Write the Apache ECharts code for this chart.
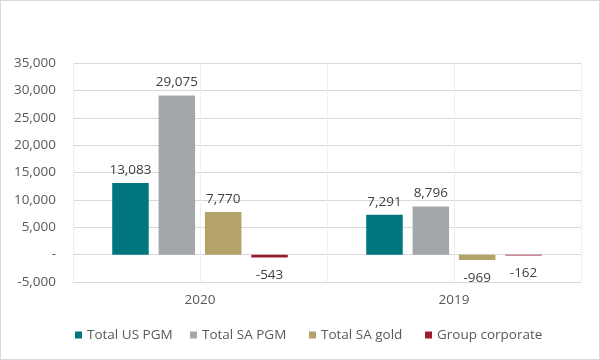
<!DOCTYPE html>
<html><head><meta charset="utf-8">
<script src="https://cdn.jsdelivr.net/npm/echarts@6/dist/echarts.min.js"></script>
<style>html,body{margin:0;padding:0;background:#fff}#c{width:600px;height:360px;box-sizing:border-box;border:1px solid #d9d9d9}</style>
</head><body><div id="c"></div>
<script>
const categories = ['2020', '2019'];
const seriesNames = ['Total US PGM', 'Total SA PGM', 'Total SA gold', 'Group corporate'];
const totalUSPGM = [13083, 7291];
const totalSAPGM = [29075, 8796];
const totalSAGold = [7770, -969];
const groupCorporate = [-543, -162];
const colors = ['#00777f', '#a3a7aa', '#b3a26a', '#9b1d33'];
const seriesValues = [totalUSPGM, totalSAPGM, totalSAGold, groupCorporate];
const legendLefts = [74, 189, 308, 424];

const font = '"Open Sans", "Liberation Sans", sans-serif';
const fmt = v => v === 0 ? '-' : v.toLocaleString('en-US');

const chart = echarts.init(document.getElementById('c'));
chart.setOption({
  animation: false,
  grid: { left: 72, right: 18, top: 62, bottom: 77 },
  legend: seriesNames.map((n, i) => ({
    data: [n], left: legendLefts[i], top: 327, padding: 0, itemWidth: 7, itemHeight: 7, itemGap: 4,
    icon: 'rect', textStyle: { color: '#595959', fontSize: 13.5, fontFamily: font }
  })),
  xAxis: [{
    type: 'category', data: categories,
    axisLine: { show: false }, axisTick: { show: false },
    axisLabel: { color: '#595959', fontSize: 13.5, fontFamily: font, margin: 11 },
    splitLine: { show: false }
  }, {
    type: 'category', data: ['a', 'b', 'c', 'd'], position: 'bottom',
    axisLine: { show: false }, axisTick: { show: false }, axisLabel: { show: false },
    splitLine: { show: true, interval: 0, lineStyle: { color: '#efefef', width: 1 } }
  }],
  yAxis: {
    type: 'value', min: -5000, max: 35000, interval: 5000,
    axisLine: { show: false }, axisTick: { show: false },
    axisLabel: { color: '#595959', fontSize: 13.5, fontFamily: font, margin: 17, formatter: fmt },
    splitLine: { lineStyle: { color: '#d9d9d9', width: 1 } }
  },
  series: seriesNames.map((n, i) => ({
    name: n, type: 'bar', xAxisIndex: 0,
    data: seriesValues[i].map(v => ({
      value: v,
      label: { position: v >= 0 ? 'top' : 'bottom', distance: v >= 0 ? 6 : 11 }
    })),
    barWidth: 36.5, barGap: '27%',
    itemStyle: { color: colors[i] },
    label: { show: true, color: '#404040', fontSize: 13.5, fontFamily: font, formatter: p => fmt(p.value) }
  }))
});
</script></body></html>
